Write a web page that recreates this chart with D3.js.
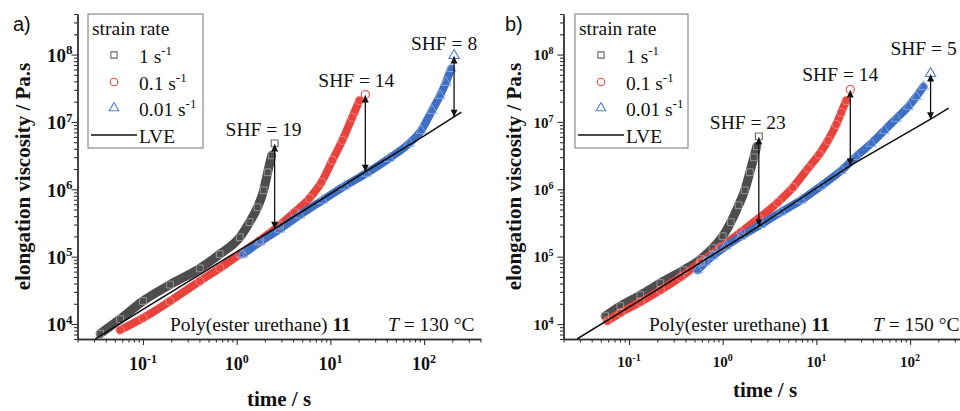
<!DOCTYPE html>
<html>
<head>
<meta charset="utf-8">
<script src="https://cdn.jsdelivr.net/npm/d3@7"></script>
<style>
  body { margin: 0; background: #fff; }
  svg { display: block; }
  text { font-family: "Liberation Serif", "Times New Roman", Tinos, "DejaVu Serif", serif; fill: #111; }
</style>
</head>
<body>
<svg id="chart" width="960" height="411"></svg>
<script>
// ---------- shared axis settings ----------
const timeDomain = [0.02, 400];
const etaDomain = [6000, 4e8];
const xMajorTicks = [0.1, 1, 10, 100];
const yMajorTicks = [1e4, 1e5, 1e6, 1e7, 1e8];
const panelTags = ["a)", "b)"];
const temperatureLabels = ["130 °C", "150 °C"];
const sampleName = "Poly(ester urethane) ";
const sampleNumber = "11";
const rateLabels = ["1", "0.1", "0.01"];
const shfValuesA = [19, 14, 8];
const shfValuesB = [23, 14, 5];

// ---------- panel a, T = 130 °C ----------
const lveTimeA = [0.031, 0.1, 1, 2.54, 10, 23.6, 100, 250];
const lveEtaA  = [6.0e3, 1.65e4, 1.18e5, 2.6e5, 8.6e5, 1.82e6, 6.2e6, 1.4e7];

const rate1TimeA = [0.0349, 0.0569, 0.1, 0.194, 0.404, 0.66, 1.08, 1.37, 1.67, 1.94, 2.14, 2.36, 2.54];
const rate1EtaA  = [7.2e3, 1.18e4, 2.2e4, 3.85e4, 6.7e4, 1.09e5, 1.94e5, 3.25e5, 5.41e5, 9.67e5, 1.79e6, 3.19e6, 4.8e6];

const rate01TimeA = [0.0569, 0.1, 0.194, 0.404, 0.66, 1.08, 1.76, 2.87, 4.14, 5.98, 8.02, 10.5, 13.4, 17.1, 20.4, 23.6];
const rate01EtaA  = [8.15e3, 1.23e4, 2.19e4, 4.34e4, 6.76e4, 1.09e5, 1.75e5, 2.93e5, 4.56e5, 7.36e5, 1.27e6, 2.69e6, 5.32e6, 1.17e7, 2.08e7, 2.55e7];

const rate001TimeA = [1.16, 1.76, 2.87, 4.68, 8.22, 14.1, 24.2, 42.4, 69.3, 93, 121.6, 148, 171, 194, 209];
const rate001EtaA  = [1.09e5, 1.64e5, 2.55e5, 4.12e5, 6.87e5, 1.11e6, 1.73e6, 2.88e6, 4.8e6, 7.48e6, 1.48e7, 2.47e7, 3.85e7, 6.2e7, 9.67e7];

// ---------- panel b, T = 150 °C ----------
const lveTimeB = [0.0279, 0.132, 2.43, 23, 165.5, 258];
const lveEtaB  = [6.0e3, 2.27e4, 2.83e5, 2.25e6, 1.1e7, 1.6e7];

const rate1TimeB = [0.0557, 0.0807, 0.132, 0.216, 0.382, 0.581, 0.782, 1.0, 1.22, 1.48, 1.72, 1.95, 2.15, 2.31, 2.43];
const rate1EtaB  = [1.31e4, 1.85e4, 2.69e4, 4.05e4, 6.31e4, 9.18e4, 1.34e5, 2.01e5, 3.25e5, 5.8e5, 9.67e5, 1.79e6, 2.98e6, 4.34e6, 6.1e6];

const rate01TimeB = [0.0585, 0.0807, 0.132, 0.216, 0.355, 0.581, 0.952, 1.56, 2.43, 3.88, 5.62, 8.15, 10.7, 13.3, 16.3, 18.4, 20.8, 23.0];
const rate01EtaB  = [1.11e4, 1.46e4, 2.12e4, 3.19e4, 4.97e4, 8.3e4, 1.38e5, 2.31e5, 3.72e5, 6.41e5, 1.07e6, 2.05e6, 3.3e6, 5.32e6, 9.18e6, 1.38e7, 2.08e7, 3.03e7];

const rate001TimeB = [0.540, 0.657, 0.782, 1.08, 1.56, 2.55, 4.19, 6.86, 11.2, 18.4, 26.6, 38.5, 53.2, 71.5, 96.2, 117, 139, 165.5];
const rate001EtaB  = [6.31e4, 8.3e4, 1.02e5, 1.43e5, 2.0e5, 3.0e5, 4.6e5, 6.9e5, 1.12e6, 1.9e6, 3.08e6, 4.8e6, 7.48e6, 1.13e7, 1.7e7, 2.39e7, 3.36e7, 5.23e7];

// ---------- styling ----------
const seriesStyles = [
  { band: "#4d4d4d", width: 9, outline: "#a8a8a8", legend: "#666666", symbol: d3.symbolSquare, size: 46 },
  { band: "#e8423c", width: 8, outline: "#f6908b", legend: "#e8463f", symbol: d3.symbolCircle, size: 52 },
  { band: "#3e6fc2", width: 8, outline: "#8eaee3", legend: "#4a7fd0", symbol: d3.symbolTriangle, size: 46 }
];

const panels = [
  {
    tag: panelTags[0], temp: temperatureLabels[0], shf: shfValuesA,
    lve: { time: lveTimeA, eta: lveEtaA },
    series: [
      { time: rate1TimeA, eta: rate1EtaA },
      { time: rate01TimeA, eta: rate01EtaA },
      { time: rate001TimeA, eta: rate001EtaA }
    ],
    layout: {
      left: 77.5, right: 480.5, top: 14, bottom: 339,
      xTickFont: 18, yTickFont: 19, yLabelGap: 5, xLabelBaseline: 370,
      yTitleX: 30, xTitleBaseline: 405.5, tagX: 13,
      legendLeft: 88, legendWidth: 115,
      sampleX: 170, tempX: 388,
      shfOffsets: [[-11, -7], [-9, -8], [-10, -6]]
    }
  },
  {
    tag: panelTags[1], temp: temperatureLabels[1], shf: shfValuesB,
    lve: { time: lveTimeB, eta: lveEtaB },
    series: [
      { time: rate1TimeB, eta: rate1EtaB },
      { time: rate01TimeB, eta: rate01EtaB },
      { time: rate001TimeB, eta: rate001EtaB }
    ],
    layout: {
      left: 563.5, right: 966.5, top: 14, bottom: 339,
      xTickFont: 15, yTickFont: 15, yLabelGap: 10, xLabelBaseline: 367,
      yTitleX: 521, xTitleBaseline: 397, tagX: 505,
      legendLeft: 575, legendWidth: 113,
      sampleX: 649, tempX: 873,
      shfOffsets: [[-11, -7], [-10, -8], [-7, -19]]
    }
  }
];

const svg = d3.select("#chart");
const defs = svg.append("defs");

defs.append("marker")
  .attr("id", "arrowHead")
  .attr("viewBox", "0 0 10 10")
  .attr("refX", 10).attr("refY", 5)
  .attr("markerUnits", "userSpaceOnUse")
  .attr("markerWidth", 8).attr("markerHeight", 7)
  .attr("orient", "auto-start-reverse")
  .append("path").attr("d", "M0,0 L10,5 L0,10 Z").attr("fill", "#111");

// piecewise straight line in log–log space, used to find the LVE value under each curve end
function lveAt(lve, t) {
  const lt = Math.log10(t);
  const lts = lve.time.map(Math.log10), lvs = lve.eta.map(Math.log10);
  let i = 0;
  while (i < lts.length - 2 && lt > lts[i + 1]) i++;
  const f = (lt - lts[i]) / (lts[i + 1] - lts[i]);
  return Math.pow(10, lvs[i] + f * (lvs[i + 1] - lvs[i]));
}

function minorValues(domain) {
  const out = [];
  const lo = Math.floor(Math.log10(domain[0])), hi = Math.ceil(Math.log10(domain[1]));
  for (let e = lo; e <= hi; e++) {
    for (let m = 2; m <= 9; m++) {
      const v = m * Math.pow(10, e);
      if (v >= domain[0] && v <= domain[1]) out.push(v);
    }
  }
  return out;
}

function powerLabel(sel, value, size) {
  const exp = Math.round(Math.log10(value));
  sel.text(null);
  sel.append("tspan").text("10");
  sel.append("tspan")
    .attr("font-size", Math.round(size * 0.66))
    .attr("dy", -size * 0.4)
    .text(exp);
}

panels.forEach((p, pi) => {
  const L = p.layout;
  const x = d3.scaleLog().domain(timeDomain).range([L.left, L.right]);
  const y = d3.scaleLog().domain(etaDomain).range([L.bottom, L.top]);
  const g = svg.append("g");

  const clipId = "plotClip" + pi;
  defs.append("clipPath").attr("id", clipId)
    .append("rect")
    .attr("x", L.left).attr("y", L.top)
    .attr("width", L.right - L.left).attr("height", L.bottom - L.top);

  // ----- axes -----
  const xMinor = g.append("g").attr("transform", `translate(0,${L.bottom})`)
    .call(d3.axisBottom(x).tickValues(minorValues(timeDomain)).tickSize(3.5).tickSizeOuter(0).tickFormat(""));
  const xMajor = g.append("g").attr("transform", `translate(0,${L.bottom})`)
    .call(d3.axisBottom(x).tickValues(xMajorTicks).tickSize(6).tickSizeOuter(0).tickFormat(""));
  const yMinor = g.append("g").attr("transform", `translate(${L.left},0)`)
    .call(d3.axisLeft(y).tickValues(minorValues(etaDomain)).tickSize(3.5).tickSizeOuter(0).tickFormat(""));
  const yMajor = g.append("g").attr("transform", `translate(${L.left},0)`)
    .call(d3.axisLeft(y).tickValues(yMajorTicks).tickSize(6).tickSizeOuter(0).tickFormat(""));
  [xMinor, xMajor, yMinor, yMajor].forEach(a => {
    a.selectAll("path.domain").attr("stroke", "#333").attr("stroke-width", 1.4);
    a.selectAll(".tick line").attr("stroke", "#333").attr("stroke-width", 1.1);
  });

  // tick labels
  g.append("g").selectAll("text").data(xMajorTicks).join("text")
    .attr("x", d => x(d)).attr("y", L.xLabelBaseline)
    .attr("text-anchor", "middle").attr("font-weight", "bold")
    .attr("font-size", L.xTickFont)
    .each(function (d) { powerLabel(d3.select(this), d, L.xTickFont); });

  g.append("g").selectAll("text").data(yMajorTicks).join("text")
    .attr("x", L.left - L.yLabelGap).attr("y", d => y(d) + L.yTickFont * 0.38)
    .attr("text-anchor", "end").attr("font-weight", "bold")
    .attr("font-size", L.yTickFont)
    .each(function (d) { powerLabel(d3.select(this), d, L.yTickFont); });

  // axis titles
  g.append("text")
    .attr("transform", `translate(${L.yTitleX},${(L.top + L.bottom) / 2}) rotate(-90)`)
    .attr("text-anchor", "middle").attr("font-weight", "bold").attr("font-size", 21)
    .text("elongation viscosity / Pa.s");
  g.append("text")
    .attr("x", (L.left + L.right) / 2).attr("y", L.xTitleBaseline)
    .attr("text-anchor", "middle").attr("font-weight", "bold").attr("font-size", 21)
    .text("time / s");

  // panel tag
  g.append("text")
    .attr("x", L.tagX).attr("y", 31)
    .attr("font-size", 20)
    .style("font-family", "'Liberation Sans', Arial, sans-serif")
    .text(p.tag);

  // ----- data -----
  const plot = g.append("g").attr("clip-path", `url(#${clipId})`);
  const line = d3.line().x(d => x(d[0])).y(d => y(d[1])).curve(d3.curveMonotoneX);

  p.series.forEach((s, si) => {
    const st = seriesStyles[si];
    const pts = s.time.map((t, i) => [t, s.eta[i]]);
    plot.append("path")
      .attr("d", line(pts.slice(0, -1)))
      .attr("fill", "none").attr("stroke", st.band)
      .attr("stroke-width", st.width).attr("stroke-linecap", "round").attr("stroke-linejoin", "round");
  });
  p.series.forEach((s, si) => {
    const st = seriesStyles[si];
    const pts = s.time.map((t, i) => [t, s.eta[i]]);
    const sym = d3.symbol().type(st.symbol).size(st.size);
    plot.append("g").selectAll("path").data(pts.slice(0, -1)).join("path")
      .attr("transform", d => `translate(${x(d[0])},${y(d[1])})`)
      .attr("d", sym)
      .attr("fill", "none").attr("stroke", st.outline).attr("stroke-width", 0.8);
    const last = pts[pts.length - 1];
    plot.append("path")
      .attr("transform", `translate(${x(last[0])},${y(last[1])})`)
      .attr("d", sym)
      .attr("fill", "#fff").attr("fill-opacity", 0.75)
      .attr("stroke", st.legend).attr("stroke-width", 1.1);
  });

  // linear viscoelastic envelope
  const lvePts = p.lve.time.map((t, i) => [t, p.lve.eta[i]]);
  plot.append("path")
    .attr("d", d3.line().x(d => x(d[0])).y(d => y(d[1]))(lvePts))
    .attr("fill", "none").attr("stroke", "#111").attr("stroke-width", 1.6);

  // strain hardening arrows and labels
  p.series.forEach((s, si) => {
    const tEnd = s.time[s.time.length - 1];
    const etaEnd = s.eta[s.eta.length - 1];
    const xe = x(tEnd);
    const yTop = y(etaEnd);
    const yBase = y(lveAt(p.lve, tEnd));
    g.append("line")
      .attr("x1", xe).attr("x2", xe)
      .attr("y1", yTop + 1).attr("y2", yBase)
      .attr("stroke", "#111").attr("stroke-width", 1.3)
      .attr("marker-start", "url(#arrowHead)")
      .attr("marker-end", "url(#arrowHead)");
    const off = L.shfOffsets[si];
    g.append("text")
      .attr("x", xe + off[0]).attr("y", yTop + off[1])
      .attr("text-anchor", "middle").attr("font-size", 19.5)
      .text(`SHF = ${p.shf[si]}`);
  });

  // sample and temperature annotations
  const sample = g.append("text").attr("x", L.sampleX).attr("y", 331).attr("font-size", 19.5);
  sample.append("tspan").text(sampleName);
  sample.append("tspan").attr("font-weight", "bold").text(sampleNumber);
  const temp = g.append("text").attr("x", L.tempX).attr("y", 331).attr("font-size", 19.5);
  temp.append("tspan").attr("font-style", "italic").text("T");
  temp.append("tspan").text(" = " + p.temp);

  // ----- legend -----
  const lg = g.append("g").attr("transform", `translate(${L.legendLeft},${L.top})`);
  lg.append("rect")
    .attr("x", 0).attr("y", 0).attr("width", L.legendWidth).attr("height", 134)
    .attr("fill", "#fff").attr("stroke", "#808080").attr("stroke-width", 1.1);
  lg.append("text").attr("x", 4).attr("y", 21).attr("font-size", 19.5).text("strain rate");
  const rowY = [41, 68, 94];
  rateLabels.forEach((r, i) => {
    const st = seriesStyles[i];
    lg.append("path")
      .attr("transform", `translate(${26},${rowY[i]})`)
      .attr("d", d3.symbol().type(st.symbol).size(st.size * 0.85))
      .attr("fill", "none").attr("stroke", st.legend).attr("stroke-width", 1.1);
    const t = lg.append("text").attr("x", 51).attr("y", rowY[i] + 7.5).attr("font-size", 19.5);
    t.append("tspan").text(r + " s");
    t.append("tspan").attr("font-size", 13).attr("dy", -8).text("-1");
  });
  lg.append("line")
    .attr("x1", 3).attr("x2", 49).attr("y1", 121).attr("y2", 121)
    .attr("stroke", "#111").attr("stroke-width", 1.6);
  lg.append("text").attr("x", 51).attr("y", 129).attr("font-size", 19.5).text("LVE");
});
</script>
</body>
</html>
